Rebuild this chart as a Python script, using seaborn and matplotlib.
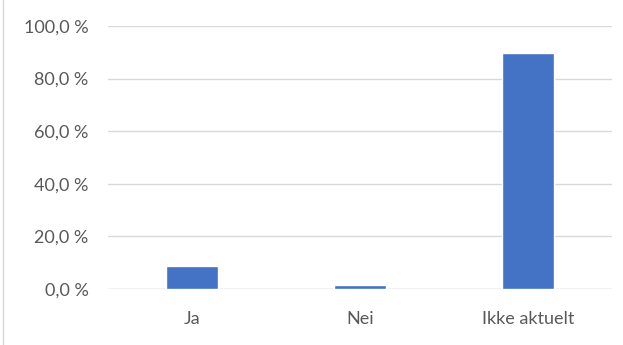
import matplotlib
matplotlib.use('Agg')
import matplotlib.pyplot as plt
import matplotlib.ticker as mticker
import seaborn as sns
import pandas as pd

# data
categories = ['Ja', 'Nei', 'Ikke aktuelt']
values = [8.9, 1.5, 89.6]

sns.set_style('white')
plt.rcParams['font.family'] = ['Lato', 'DejaVu Sans']

df = pd.DataFrame({'kategori': categories, 'andel': values})

fig = plt.figure(figsize=(6.23, 3.45), dpi=100)
ax = fig.add_axes([108 / 623, 1 - 289 / 345, 504 / 623, 263 / 345])

sns.barplot(data=df, x='kategori', y='andel', color='#4472C4', saturation=1,
            width=0.315, ax=ax, zorder=3)

ax.set_ylim(0, 100)
ax.yaxis.set_major_locator(mticker.MultipleLocator(20))
ax.yaxis.set_major_formatter(mticker.FuncFormatter(lambda v, p: f'{v:.1f} %'.replace('.', ',')))
ax.grid(axis='y', color='#D9D9D9', linewidth=1, zorder=0)
ax.set_xlabel('')
ax.set_ylabel('')
for s in ax.spines.values():
    s.set_visible(False)
ax.axhline(0, color='#D9D9D9', linewidth=1, zorder=2)
ax.tick_params(axis='both', length=0, labelsize=13, labelcolor='#595959')
ax.tick_params(axis='x', pad=16)
ax.tick_params(axis='y', pad=14)

# left edge of the chart frame
fig.add_artist(plt.Line2D([3 / 623, 3 / 623], [0, 1], color='#D9D9D9', linewidth=1))

fig.savefig('out.png', dpi=100)
